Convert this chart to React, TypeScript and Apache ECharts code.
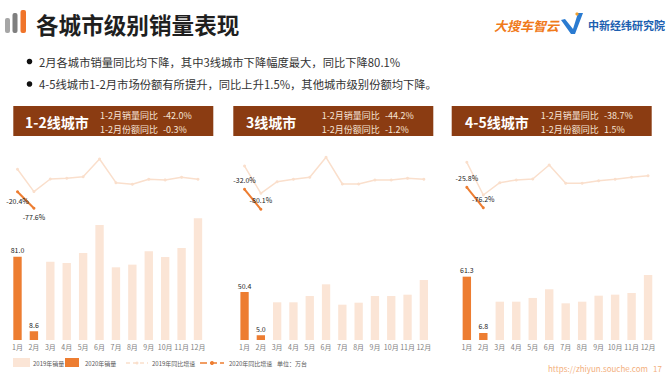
import React, { useEffect, useRef } from "react";
import * as echarts from "echarts";

const months = ["1月", "2月", "3月", "4月", "5月", "6月", "7月", "8月", "9月", "10月", "11月", "12月"];
const panelTitles = ["1-2线城市", "3线城市", "4-5线城市"];
const salesYoYText = ["-42.0%", "-44.2%", "-38.7%"];
const shareYoYText = ["-0.3%", "-1.2%", "1.5%"];

const sales2019Tier12 = [null, null, 76.1, 74.9, 84.6, 111.9, 70.7, 73.3, 86.3, 80.7, 89.5, 118.4];
const sales2019Tier3 = [null, null, 39.6, 39.6, 46.2, 58.5, 37.1, 39.2, 46.2, 46.2, 47.6, 63.0];
const sales2019Tier45 = [null, null, 37.1, 37.1, 40.7, 49.1, 35.5, 37.1, 42.9, 43.9, 45.5, 62.9];

const sales2020Tier12 = [81.0, 8.6, null, null, null, null, null, null, null, null, null, null];
const sales2020Tier3 = [50.4, 5.0, null, null, null, null, null, null, null, null, null, null];
const sales2020Tier45 = [61.3, 6.8, null, null, null, null, null, null, null, null, null, null];

const yoy2019Tier12 = [56.9, -20.0, 23.4, 25.9, 31.4, 92.4, 10.7, 5.2, 22.8, 20.3, 29.7, 22.8];
const yoy2019Tier3 = [24.0, -41.6, -13.7, -7.9, -3.1, 45.0, -19.2, -19.2, -9.6, -9.6, -5.5, -7.9];
const yoy2019Tier45 = [36.0, -44.7, -14.3, -7.7, -5.2, 29.4, -15.8, -15.8, -9.4, -6.0, -1.0, 3.0];

const yoy2020Tier12 = [-20.4, -77.6, null, null, null, null, null, null, null, null, null, null];
const yoy2020Tier3 = [-32.0, -80.1, null, null, null, null, null, null, null, null, null, null];
const yoy2020Tier45 = [-25.8, -76.2, null, null, null, null, null, null, null, null, null, null];

const bullets = [
  "2月各城市销量同比均下降，其中3线城市下降幅度最大，同比下降80.1%",
  "4-5线城市1-2月市场份额有所提升，同比上升1.5%，其他城市级别份额均下降。",
];

const FONT = '"Noto Sans CJK SC", "Noto Sans", sans-serif';
const C2019 = "#FBE5D6";
const C2020 = "#ED7D31";
const CLINE19 = "#FADFCC";
const BROWN = "#8B3C12";

export default function App() {
  const ref = useRef<HTMLDivElement>(null);
  useEffect(() => {
    if (!ref.current) return;
    const chart = echarts.init(ref.current, null, { renderer: "svg" });

    const s2019 = [sales2019Tier12, sales2019Tier3, sales2019Tier45];
    const s2020 = [sales2020Tier12, sales2020Tier3, sales2020Tier45];
    const y2019 = [yoy2019Tier12, yoy2019Tier3, yoy2019Tier45];
    const y2020 = [yoy2020Tier12, yoy2020Tier3, yoy2020Tier45];

    const gridLeft = [9.3, 236.4, 458.6];
    const gridWidth = [196.9, 195.6, 197.7];
    const barMax = [184.8, 199.6, 183.9];
    const lineMin = [-531.7, -394.2, -402.7];
    const lineMax = [123.4, 62.5, 66.4];
    const labelPos = ["bottom", "top", "top"];

    const grids: any[] = [];
    const xAxes: any[] = [];
    const yAxes: any[] = [];
    const series: any[] = [];

    for (let i = 0; i < 3; i++) {
      grids.push({ left: gridLeft[i], top: 150, width: gridWidth[i], height: 190 });
      xAxes.push({
        type: "category",
        gridIndex: i,
        data: months,
        axisLine: { show: false },
        axisTick: { show: false },
        axisLabel: { fontSize: 7, color: "#808080", margin: 3, fontFamily: FONT, interval: 0 },
      });
      yAxes.push({ type: "value", gridIndex: i, min: 0, max: barMax[i], show: false, splitLine: { show: false } });
      yAxes.push({ type: "value", gridIndex: i, min: lineMin[i], max: lineMax[i], show: false, splitLine: { show: false } });

      series.push({
        type: "bar",
        name: "2019年销量",
        xAxisIndex: i,
        yAxisIndex: 2 * i,
        data: s2019[i],
        barWidth: "51%",
        barGap: "-100%",
        itemStyle: { color: C2019 },
        z: 1,
      });
      series.push({
        type: "bar",
        name: "2020年销量",
        xAxisIndex: i,
        yAxisIndex: 2 * i,
        data: s2020[i],
        barWidth: "51%",
        barGap: "-100%",
        itemStyle: { color: C2020 },
        z: 2,
        label: {
          show: true,
          position: "top",
          distance: 3,
          fontSize: 7,
          color: "#262626",
          fontFamily: FONT,
          formatter: (p: any) => (p.value == null ? "" : Number(p.value).toFixed(1)),
        },
      });
      series.push({
        type: "line",
        name: "2019年同比增速",
        xAxisIndex: i,
        yAxisIndex: 2 * i + 1,
        data: y2019[i],
        symbol: "circle",
        symbolSize: 3,
        lineStyle: { color: CLINE19, width: 1.5 },
        itemStyle: { color: CLINE19 },
        z: 3,
      });
      series.push({
        type: "line",
        name: "2020年同比增速",
        xAxisIndex: i,
        yAxisIndex: 2 * i + 1,
        data: y2020[i],
        symbol: "circle",
        symbolSize: 3,
        lineStyle: { color: C2020, width: 2 },
        itemStyle: { color: C2020 },
        z: 4,
        label: {
          show: true,
          position: labelPos[i],
          distance: 4,
          fontSize: 7,
          color: "#1a1a1a",
          fontFamily: FONT,
          formatter: (p: any) => (p.value == null ? "" : Number(p.value).toFixed(1) + "%"),
        },
      });
    }

    const graphic: any[] = [];
    // title icon
    graphic.push({ type: "rect", shape: { x: 5, y: 18, width: 5, height: 15, r: 2 }, style: { fill: "#A6A6A6" } });
    graphic.push({ type: "rect", shape: { x: 12.5, y: 13, width: 5, height: 20, r: 2 }, style: { fill: "#7F7F7F" } });
    graphic.push({ type: "rect", shape: { x: 20.5, y: 10, width: 5.5, height: 23, r: 2 }, style: { fill: "#F0742A" } });
    graphic.push({
      type: "text",
      x: 36,
      y: 24,
      style: { text: "各城市级别销量表现", font: `bold 22.6px ${FONT}`, fill: "#1f1f1f", verticalAlign: "middle" },
    });
    // logos
    graphic.push({
      type: "text",
      x: 494,
      y: 25,
      style: { text: "大搜车智云", font: `italic bold 13px ${FONT}`, fill: "#F07A1A", verticalAlign: "middle" },
    });
    graphic.push({
      type: "polygon",
      shape: { points: [[561, 20], [565, 19], [573, 29], [578, 13], [583, 13], [575, 34], [571, 34]] },
      style: { fill: "#2A7BD1" },
    });
    graphic.push({ type: "circle", shape: { cx: 577, cy: 14, r: 1.6 }, style: { fill: "#F0A030" } });
    graphic.push({
      type: "text",
      x: 588,
      y: 25,
      style: { text: "中新经纬研究院", font: `bold 11px ${FONT}`, fill: "#1D5FB0", verticalAlign: "middle" },
    });
    // bullets
    const bulletY = [61.5, 84];
    bullets.forEach((b, k) => {
      graphic.push({ type: "circle", shape: { cx: 29.5, cy: bulletY[k], r: 2.8 }, style: { fill: "#111" } });
      graphic.push({
        type: "text",
        x: 39,
        y: bulletY[k],
        style: { text: b, font: `11.3px ${FONT}`, fill: "#333333", verticalAlign: "middle" },
      });
    });
    // panel headers
    const hdrX = [13.3, 233.3, 451.7];
    const titleX = [25, 246, 465];
    const statX = [100, 321.7, 540.7];
    const valX = [163, 385, 604];
    for (let i = 0; i < 3; i++) {
      graphic.push({ type: "rect", shape: { x: hdrX[i], y: 106, width: 200, height: 30 }, style: { fill: BROWN } });
      graphic.push({
        type: "text",
        x: titleX[i],
        y: 122,
        style: { text: panelTitles[i], font: `bold 14px ${FONT}`, fill: "#ffffff", verticalAlign: "middle" },
      });
      graphic.push({
        type: "text",
        x: statX[i],
        y: 115.5,
        style: { text: "1-2月销量同比", font: `9px ${FONT}`, fill: "#F6E4D6", verticalAlign: "middle" },
      });
      graphic.push({
        type: "text",
        x: valX[i],
        y: 115.5,
        style: { text: salesYoYText[i], font: `9px ${FONT}`, fill: "#F6E4D6", verticalAlign: "middle" },
      });
      graphic.push({
        type: "text",
        x: statX[i],
        y: 129.5,
        style: { text: "1-2月份额同比", font: `9px ${FONT}`, fill: "#F6E4D6", verticalAlign: "middle" },
      });
      graphic.push({
        type: "text",
        x: valX[i],
        y: 129.5,
        style: { text: shareYoYText[i], font: `9px ${FONT}`, fill: "#F6E4D6", verticalAlign: "middle" },
      });
    }
    // legend
    const ly = 363;
    const lt = (x: number, t: string) => ({
      type: "text",
      x,
      y: ly,
      style: { text: t, font: `6px ${FONT}`, fill: "#595959", verticalAlign: "middle" },
    });
    graphic.push({ type: "rect", shape: { x: 13, y: 358, width: 17, height: 9 }, style: { fill: C2019 } });
    graphic.push(lt(33, "2019年销量"));
    graphic.push({ type: "rect", shape: { x: 65, y: 358, width: 14, height: 9 }, style: { fill: C2020 } });
    graphic.push(lt(85, "2020年销量"));
    graphic.push({
      type: "line",
      shape: { x1: 126, y1: ly, x2: 148, y2: ly },
      style: { stroke: CLINE19, lineWidth: 1.5, lineDash: [4, 3] },
    });
    graphic.push({ type: "circle", shape: { cx: 137, cy: ly, r: 1.5 }, style: { fill: CLINE19 } });
    graphic.push(lt(152, "2019年同比增速"));
    graphic.push({
      type: "line",
      shape: { x1: 200, y1: ly, x2: 224, y2: ly },
      style: { stroke: C2020, lineWidth: 1.5, lineDash: [7, 3] },
    });
    graphic.push({ type: "circle", shape: { cx: 212, cy: ly, r: 2 }, style: { fill: C2020 } });
    graphic.push(lt(229, "2020年同比增速"));
    graphic.push(lt(277, "单位：万台"));
    // footer
    graphic.push({
      type: "text",
      x: 548,
      y: 368,
      style: { text: "https://zhiyun.souche.com", font: `8px ${FONT}`, fill: "#F3B07E", verticalAlign: "middle" },
    });
    graphic.push({
      type: "text",
      x: 653,
      y: 368,
      style: { text: "17", font: `8px ${FONT}`, fill: "#F3B07E", verticalAlign: "middle" },
    });

    chart.setOption({
      animation: false,
      backgroundColor: "#ffffff",
      grid: grids,
      xAxis: xAxes,
      yAxis: yAxes,
      series,
      graphic,
    });
    return () => chart.dispose();
  }, []);

  return <div ref={ref} style={{ position: "absolute", left: 0, top: 0, width: 670, height: 377 }} />;
}
